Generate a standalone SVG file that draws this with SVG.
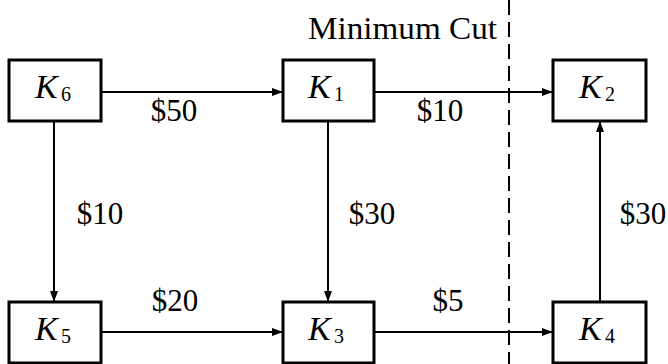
<svg xmlns="http://www.w3.org/2000/svg" width="668" height="364" viewBox="0 0 668 364">
  <style>
    .box { fill: #fff; stroke: #000; stroke-width: 3; }
    .edge { fill: none; stroke: #000; stroke-width: 2; }
    .cut { fill: none; stroke: #000; stroke-width: 2; stroke-dasharray: 15 7; }
    .lbl { font-family: 'Liberation Serif', 'Times New Roman', serif; font-size: 31px; fill: #000; }
    .k { font-family: 'Liberation Serif', 'Times New Roman', serif; font-size: 34px; font-style: italic; fill: #000; }
    .sub { font-family: 'Liberation Serif', 'Times New Roman', serif; font-size: 20px; fill: #000; }
  </style>
  <defs>
    <marker id="arrow" viewBox="0 0 11 8" refX="11" refY="4" markerWidth="11" markerHeight="8" markerUnits="userSpaceOnUse" orient="auto">
      <path d="M0,0 L11,4 L0,8 z" fill="#000"/>
    </marker>
  </defs>
  <rect width="668" height="364" fill="#fff"/>

  <!-- cut line and its caption -->
  <line class="cut" x1="509" y1="0" x2="509" y2="364"/>
  <text class="lbl" x="308" y="39" textLength="189" lengthAdjust="spacingAndGlyphs">Minimum Cut</text>

  <g id="connectors">
    <line class="edge" x1="101" y1="92" x2="283" y2="92" marker-end="url(#arrow)"/>
    <line class="edge" x1="374" y1="92" x2="553" y2="92" marker-end="url(#arrow)"/>
    <line class="edge" x1="54" y1="121" x2="54" y2="302" marker-end="url(#arrow)"/>
    <line class="edge" x1="328" y1="121" x2="328" y2="302" marker-end="url(#arrow)"/>
    <line class="edge" x1="101" y1="332" x2="283" y2="332" marker-end="url(#arrow)"/>
    <line class="edge" x1="374" y1="332" x2="553" y2="332" marker-end="url(#arrow)"/>
    <line class="edge" x1="600" y1="302" x2="600" y2="121" marker-end="url(#arrow)"/>

    <text class="lbl" x="174" y="121" text-anchor="middle">$50</text>
    <text class="lbl" x="440" y="121" text-anchor="middle">$10</text>
    <text class="lbl" x="100" y="224" text-anchor="middle">$10</text>
    <text class="lbl" x="372" y="224" text-anchor="middle">$30</text>
    <text class="lbl" x="643" y="224" text-anchor="middle">$30</text>
    <text class="lbl" x="175" y="311" text-anchor="middle">$20</text>
    <text class="lbl" x="448" y="311" text-anchor="middle">$5</text>
  </g>

  <g id="K6">
    <rect class="box" x="9" y="60" width="92" height="61"/>
    <text x="35" y="98"><tspan class="k">K</tspan><tspan class="sub" x="61" y="101">6</tspan></text>
  </g>
  <g id="K1">
    <rect class="box" x="283" y="60" width="91" height="61"/>
    <text x="308" y="98"><tspan class="k">K</tspan><tspan class="sub" x="334" y="101">1</tspan></text>
  </g>
  <g id="K2">
    <rect class="box" x="553" y="60" width="93" height="61"/>
    <text x="579" y="98"><tspan class="k">K</tspan><tspan class="sub" x="605" y="101">2</tspan></text>
  </g>
  <g id="K5">
    <rect class="box" x="9" y="302" width="92" height="61"/>
    <text x="35" y="340"><tspan class="k">K</tspan><tspan class="sub" x="61" y="343">5</tspan></text>
  </g>
  <g id="K3">
    <rect class="box" x="283" y="302" width="91" height="61"/>
    <text x="308" y="340"><tspan class="k">K</tspan><tspan class="sub" x="334" y="343">3</tspan></text>
  </g>
  <g id="K4">
    <rect class="box" x="553" y="302" width="93" height="61"/>
    <text x="579" y="340"><tspan class="k">K</tspan><tspan class="sub" x="605" y="343">4</tspan></text>
  </g>
</svg>
